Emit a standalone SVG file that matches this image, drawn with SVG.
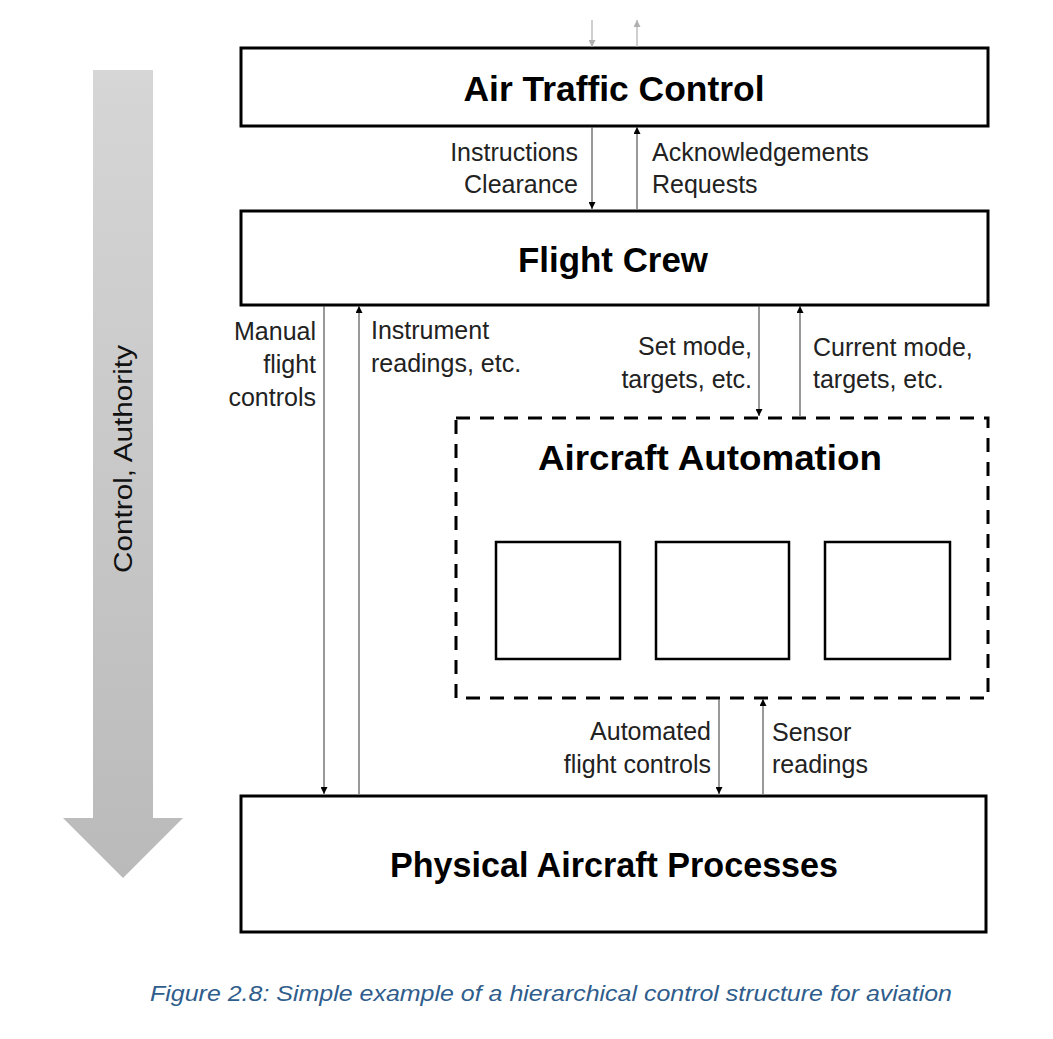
<svg xmlns="http://www.w3.org/2000/svg" width="1053" height="1039" viewBox="0 0 1053 1039">
<defs>
<linearGradient id="gArrow" x1="0" y1="0" x2="0" y2="1">
<stop offset="0" stop-color="#d6d6d6"/>
<stop offset="1" stop-color="#bababa"/>
</linearGradient>
<marker id="ah" viewBox="0 0 10 10" refX="10" refY="5" markerWidth="9" markerHeight="7" markerUnits="userSpaceOnUse" orient="auto">
<path d="M0,0 L10,5 L0,10 z" fill="#000"/>
</marker>
<marker id="ahg" viewBox="0 0 10 10" refX="10" refY="5" markerWidth="9" markerHeight="7" markerUnits="userSpaceOnUse" orient="auto">
<path d="M0,0 L10,5 L0,10 z" fill="#b0b0b0"/>
</marker>
<style>
.box{fill:#fff;stroke:#000;stroke-width:3}
.dash{fill:none;stroke:#000;stroke-width:3;stroke-dasharray:14 10}
.sub{fill:#fff;stroke:#000;stroke-width:2.5}
.title{font-family:"Liberation Sans",Arial,sans-serif;font-weight:bold;font-size:35px;fill:#000;text-anchor:middle}
.lbl{font-family:"Liberation Sans",Arial,sans-serif;font-size:25px;fill:#222}
.r{text-anchor:end}
.conn{stroke:#555;stroke-width:1.2;fill:none;marker-end:url(#ah)}
.connG{stroke:#b0b0b0;stroke-width:1.2;fill:none;marker-end:url(#ahg)}
</style>
</defs>
<rect width="1053" height="1039" fill="#fff"/>

<g id="authority-arrow">
<path d="M93,70 L153,70 L153,818 L183,818 L123,878 L63,818 L93,818 Z" fill="url(#gArrow)"/>
<text transform="translate(132,459) rotate(-90)" text-anchor="middle" font-family="Liberation Sans, Arial, sans-serif" font-size="26" fill="#111" textLength="228" lengthAdjust="spacingAndGlyphs">Control, Authority</text>
</g>

<g id="atc">
<rect class="box" x="241" y="48" width="747" height="78"/>
<text class="title" x="614" y="101" textLength="301" lengthAdjust="spacingAndGlyphs">Air Traffic Control</text>
</g>

<g id="flight-crew">
<rect class="box" x="241" y="211" width="747" height="94"/>
<text class="title" x="613" y="272" textLength="190" lengthAdjust="spacingAndGlyphs">Flight Crew</text>
</g>

<g id="aircraft-automation">
<rect class="dash" x="456" y="418" width="532" height="280"/>
<text class="title" x="710" y="470" textLength="344" lengthAdjust="spacingAndGlyphs">Aircraft Automation</text>
<rect class="sub" x="496" y="542" width="124" height="117"/>
<rect class="sub" x="656" y="542" width="133" height="117"/>
<rect class="sub" x="825" y="542" width="125" height="117"/>
</g>

<g id="physical">
<rect class="box" x="241" y="796" width="745" height="136"/>
<text class="title" x="614" y="877" textLength="448" lengthAdjust="spacingAndGlyphs">Physical Aircraft Processes</text>
</g>

<g id="connectors">
<line class="connG" x1="592" y1="20" x2="592" y2="47"/>
<line class="connG" x1="637" y1="47" x2="637" y2="20"/>
<line class="conn" x1="592" y1="127" x2="592" y2="209"/>
<line class="conn" x1="637" y1="209" x2="637" y2="127"/>
<line class="conn" x1="324" y1="306" x2="324" y2="794"/>
<line class="conn" x1="359" y1="794" x2="359" y2="306"/>
<line class="conn" x1="759" y1="306" x2="759" y2="416"/>
<line class="conn" x1="800" y1="416" x2="800" y2="306"/>
<line class="conn" x1="719" y1="699" x2="719" y2="794"/>
<line class="conn" x1="763" y1="794" x2="763" y2="699"/>
</g>

<g id="labels">
<text class="lbl r" x="578" y="161">Instructions</text>
<text class="lbl r" x="578" y="193">Clearance</text>
<text class="lbl" x="652" y="161">Acknowledgements</text>
<text class="lbl" x="652" y="193">Requests</text>
<text class="lbl r" x="316" y="340">Manual</text>
<text class="lbl r" x="316" y="373">flight</text>
<text class="lbl r" x="316" y="406">controls</text>
<text class="lbl" x="371" y="339">Instrument</text>
<text class="lbl" x="371" y="372">readings, etc.</text>
<text class="lbl r" x="752" y="355">Set mode,</text>
<text class="lbl r" x="752" y="388">targets, etc.</text>
<text class="lbl" x="813" y="356">Current mode,</text>
<text class="lbl" x="813" y="388">targets, etc.</text>
<text class="lbl r" x="711" y="740">Automated</text>
<text class="lbl r" x="711" y="773">flight controls</text>
<text class="lbl" x="772" y="741">Sensor</text>
<text class="lbl" x="772" y="773">readings</text>
</g>

<text id="caption" x="150" y="1001" font-family="Liberation Sans, Arial, sans-serif" font-style="italic" font-size="22" fill="#2f5d8c" textLength="802" lengthAdjust="spacingAndGlyphs">Figure 2.8: Simple example of a hierarchical control structure for aviation</text>
</svg>
